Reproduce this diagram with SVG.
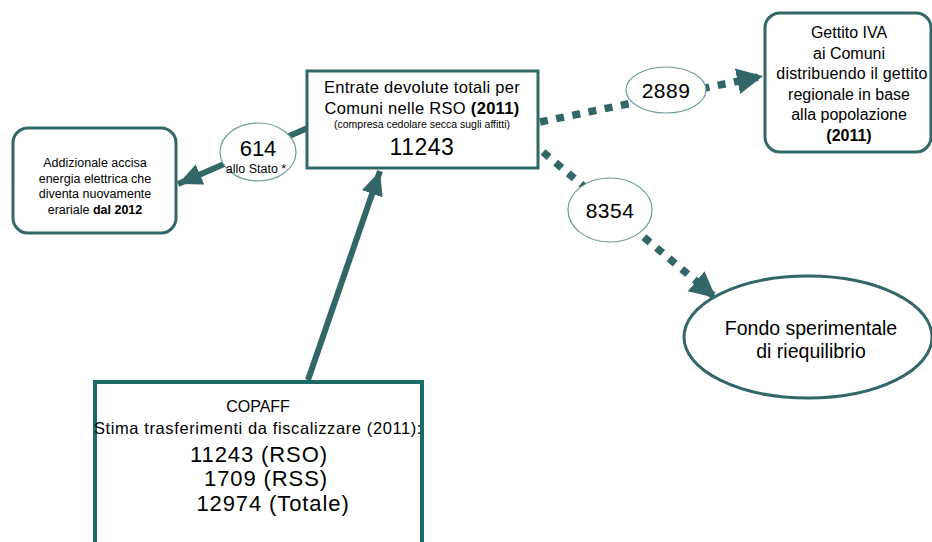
<svg xmlns="http://www.w3.org/2000/svg" width="932" height="542" viewBox="0 0 932 542">
<style>
text{font-family:"Liberation Sans",Arial,sans-serif;fill:#000;text-anchor:middle}
.box{fill:#fff;stroke:#336666;stroke-width:3}
.lbl{fill:#fff;stroke:#6f9a9a;stroke-width:1.2}
.solid{fill:none;stroke:#336666;stroke-width:6}
.dot{fill:none;stroke:#336666;stroke-width:7.5;stroke-dasharray:8 8.5}
.b{font-weight:bold}
</style>
<defs>
<marker id="ah" markerUnits="userSpaceOnUse" markerWidth="26" markerHeight="24" refX="24" refY="11" orient="auto">
<path d="M0,0 L24,11 L0,22 Z" fill="#336666"/>
</marker>
<marker id="ahd" markerUnits="userSpaceOnUse" markerWidth="28" markerHeight="28" refX="26" refY="13" orient="auto">
<path d="M0,0 L26,13 L0,26 Z" fill="#336666"/>
</marker>
</defs>
<rect width="932" height="542" fill="#fff"/>
<g id="connectors">
<line class="solid" x1="308" y1="380" x2="380" y2="171" marker-end="url(#ah)"/>
<line class="solid" x1="310" y1="127" x2="178" y2="184" marker-end="url(#ah)"/>
<line class="dot" x1="540" y1="122" x2="763" y2="76" marker-end="url(#ahd)"/>
<line class="dot" x1="543" y1="152" x2="716" y2="298" marker-end="url(#ahd)"/>
</g>
<g id="central">
<rect class="box" x="307" y="71" width="231" height="97"/>
<text x="422" y="93" font-size="16.5" letter-spacing="0.3">Entrate devolute totali per</text>
<text x="422" y="114" font-size="16.5" letter-spacing="0.3">Comuni nelle RSO <tspan class="b">(2011)</tspan></text>
<text x="422" y="128" font-size="10.5">(compresa cedolare secca sugli affitti)</text>
<text x="422" y="155" font-size="23" letter-spacing="0.5">11243</text>
</g>
<g id="addizionale">
<rect class="box" x="13" y="128" width="163" height="105" rx="15"/>
<text x="95" y="167" font-size="12.5">Addizionale accisa</text>
<text x="95" y="183" font-size="12.5">energia elettrica che</text>
<text x="95" y="198" font-size="12.5">diventa nuovamente</text>
<text x="95" y="214" font-size="12.5">erariale <tspan class="b">dal 2012</tspan></text>
</g>
<g id="lbl614">
<ellipse class="lbl" cx="258" cy="152" rx="38" ry="29"/>
<text x="258" y="156" font-size="22">614</text>
<text x="256" y="173" font-size="12.5">allo Stato *</text>
</g>
<g id="lbl2889">
<ellipse class="lbl" cx="666" cy="90" rx="40" ry="23"/>
<text x="666" y="98" font-size="21" letter-spacing="0.5">2889</text>
</g>
<g id="gettito">
<rect class="box" x="765" y="13" width="166" height="139" rx="15"/>
<text x="849" y="38" font-size="16">Gettito IVA</text>
<text x="849" y="59" font-size="16">ai Comuni</text>
<text x="852" y="79" font-size="16" letter-spacing="0.2">distribuendo il gettito</text>
<text x="849" y="100" font-size="16">regionale in base</text>
<text x="849" y="120" font-size="16">alla popolazione</text>
<text x="849" y="141" font-size="16" class="b">(2011)</text>
</g>
<g id="lbl8354">
<ellipse class="lbl" cx="610" cy="210" rx="42" ry="32"/>
<text x="610" y="218" font-size="21" letter-spacing="0.5">8354</text>
</g>
<g id="fondo">
<ellipse class="box" cx="808" cy="337" rx="124" ry="61"/>
<text x="811" y="335" font-size="19.5">Fondo sperimentale</text>
<text x="811" y="358" font-size="19.5">di riequilibrio</text>
</g>
<g id="copaff">
<rect x="95" y="382" width="327" height="200" fill="#fff" stroke="#1d6b69" stroke-width="4"/>
<text x="258" y="412" font-size="16">COPAFF</text>
<text x="258" y="434" font-size="16.5" letter-spacing="0.6">Stima trasferimenti da fiscalizzare (2011):</text>
<text x="259" y="462" font-size="22" letter-spacing="0.9">11243 (RSO)</text>
<text x="266" y="486" font-size="22" letter-spacing="0.9">1709 (RSS)</text>
<text x="273" y="511" font-size="22" letter-spacing="0.9">12974 (Totale)</text>
</g>
</svg>
